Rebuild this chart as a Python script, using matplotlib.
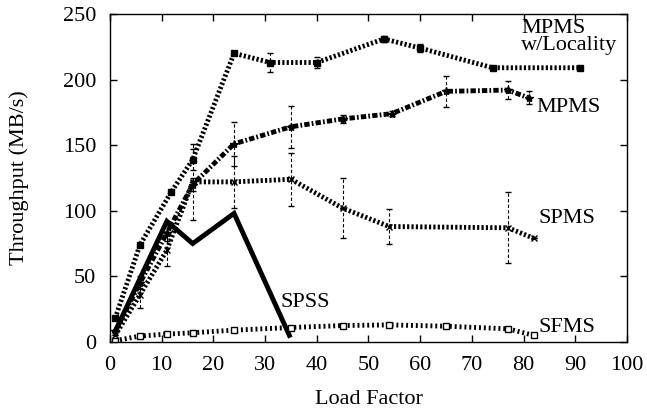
import matplotlib.pyplot as plt

plt.rcParams["font.family"] = ["Liberation Serif", "DejaVu Serif"]

# MPMS w/Locality
loc_x = [1, 5.8, 11.8, 16, 24, 31, 40, 53, 60, 74, 91]
loc_y = [18, 74, 114, 139, 220, 213, 213, 231, 224, 209, 209]
loc_err = [0, 0, 0, 8, 0, 7, 4, 2, 3, 0, 0]

# MPMS
mpms_x = [1, 5.8, 11, 16, 24, 35, 45, 54.5, 65, 77, 81]
mpms_y = [8, 45, 83, 120, 151, 164, 170, 174, 191, 192, 186]
mpms_err = [0, 5, 6, 5, 17, 16, 3, 2, 12, 7, 5]

# SPMS
spms_x = [1, 5.8, 11, 16, 24, 35, 45, 54, 77, 82]
spms_y = [5, 36, 70, 122, 122, 124, 102, 88, 87, 79]
spms_err = [0, 10, 12, 29, 20, 20, 23, 13, 27, 0]

# SPSS
spss_x = [1, 11, 16, 24, 34.7]
spss_y = [8, 92, 75, 98, 5]

# SFMS
sfms_x = [1, 5.8, 11, 16, 24, 35, 45, 54, 65, 77, 82]
sfms_y = [1, 4.5, 6, 7, 9, 11, 12.5, 13, 12, 10, 5]

fig = plt.figure(figsize=(6.47, 4.11), dpi=100)
ax = fig.add_axes([0.170, 0.168, 0.799, 0.798])

dotted = (0, (0.45, 0.45))
dashdot = (0, (1.1, 0.45, 0.35, 0.45))
fs = 16

ax.errorbar(loc_x, loc_y, yerr=loc_err, color="black", lw=3.5, ls=dotted,
            marker="s", ms=5, capsize=2, elinewidth=0.8)
ax.errorbar(mpms_x, mpms_y, yerr=mpms_err, color="black", lw=3.5, ls=dashdot,
            marker="*", ms=6, capsize=2, elinewidth=0.8)
ax.errorbar(spms_x, spms_y, yerr=spms_err, color="black", lw=3.5, ls=dotted,
            marker="x", ms=4, mew=1, capsize=2, elinewidth=0.8)
ax.plot(spss_x, spss_y, color="black", lw=3.5, solid_joinstyle="miter")
ax.plot(sfms_x, sfms_y, color="black", lw=3.5, ls=(0, (0.4, 0.6)),
        marker="s", ms=5, mfc="white", mew=1)

# dashed style for error bars
for c in ax.collections:
    c.set_linestyle((0, (3, 2)))

ax.text(79.5, 246, "MPMS\nw/Locality", fontsize=fs, va="top", ha="left",
        linespacing=0.85)
ax.text(82.5, 179, "MPMS", fontsize=fs, va="center", ha="left")
ax.text(82.8, 94, "SPMS", fontsize=fs, va="center", ha="left")
ax.text(33, 30, "SPSS", fontsize=fs, va="center", ha="left")
ax.text(82.8, 11, "SFMS", fontsize=fs, va="center", ha="left")

ax.set_xlim(0, 100)
ax.set_ylim(0, 250)
ax.set_xticks(range(0, 101, 10))
ax.set_yticks(range(0, 251, 50))
ax.tick_params(direction="in", top=True, right=True, labelsize=fs,
               length=5, width=1)
ax.tick_params(axis="x", pad=10)
ax.tick_params(axis="y", pad=10)
for s in ax.spines.values():
    s.set_linewidth(1)
ax.set_xlabel("Load Factor", fontsize=fs, labelpad=11)
ax.set_ylabel("Throughput (MB/s)", fontsize=fs, labelpad=24)

fig.savefig("out.png")
